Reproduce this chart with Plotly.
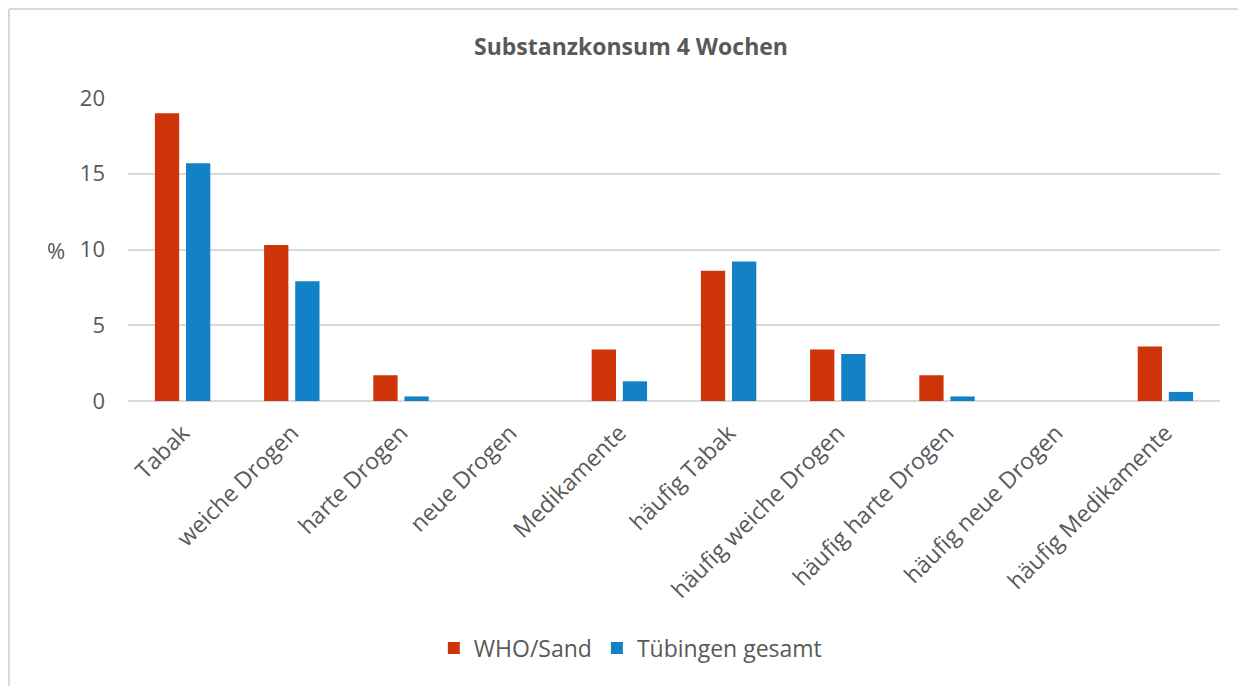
import plotly.graph_objects as go

categories = ["Tabak", "weiche Drogen", "harte Drogen", "neue Drogen", "Medikamente",
              "häufig Tabak", "häufig weiche Drogen", "häufig harte Drogen",
              "häufig neue Drogen", "häufig Medikamente"]
who_sand = [19.0, 10.3, 1.7, 0, 3.4, 8.6, 3.4, 1.7, 0, 3.6]
tuebingen = [15.7, 7.9, 0.3, 0, 1.3, 9.2, 3.1, 0.3, 0, 0.6]
y_ticks = [0, 5, 10, 15, 20]

RED = "#CF3308"
BLUE = "#1281C6"
TXT = "#595959"
FONT = "Open Sans"

fig = go.Figure()
fig.add_trace(go.Bar(x=categories, y=who_sand, name="WHO/Sand",
                     marker=dict(color=RED, line=dict(width=0))))
fig.add_trace(go.Bar(x=categories, y=tuebingen, name="Tübingen gesamt",
                     marker=dict(color=BLUE, line=dict(width=0))))

fig.update_layout(
    width=1246, height=686,
    margin=dict(l=120, r=34, t=90, b=293),
    paper_bgcolor="white", plot_bgcolor="white",
    bargap=0.43, bargroupgap=0.22,
    font=dict(family=FONT, color=TXT, size=22),
    title=dict(text="<b>Substanzkonsum 4 Wochen</b>", x=0.5, xanchor="center",
               y=0.943, yanchor="middle",
               font=dict(family=FONT, size=23, color=TXT)),
    showlegend=True,
    legend=dict(orientation="h", x=0.46, xanchor="center", y=-0.815, yanchor="middle",
                font=dict(family=FONT, size=23, color=TXT),
                itemwidth=30, traceorder="normal"),
    xaxis=dict(tickangle=-45, tickfont=dict(family=FONT, size=23, color=TXT),
               showgrid=False, showline=False, ticks="", ticklen=0,
               ticklabelstandoff=13),
    yaxis=dict(range=[0, 20], tickvals=y_ticks, showgrid=True, gridcolor="#D9D9D9",
               gridwidth=1.5, zeroline=True, zerolinecolor="#D9D9D9", zerolinewidth=1.5,
               ticks="", tickfont=dict(family=FONT, size=22, color=TXT),
               ticklabelstandoff=22),
)

fig.add_annotation(text="%", xref="paper", yref="paper", x=-0.066, y=0.5,
                   xanchor="center", yanchor="middle", showarrow=False,
                   font=dict(family=FONT, size=22, color=TXT))

# chart border (outer frame)
fig.add_shape(type="line", xref="paper", yref="paper", x0=-0.109, x1=1.05,
              y0=1.2937, y1=1.2937, line=dict(color="#D9D9D9", width=2))
fig.add_shape(type="line", xref="paper", yref="paper", x0=-0.109, x1=-0.109,
              y0=1.2937, y1=-0.95, line=dict(color="#D9D9D9", width=2))

fig.write_html("out.html")
